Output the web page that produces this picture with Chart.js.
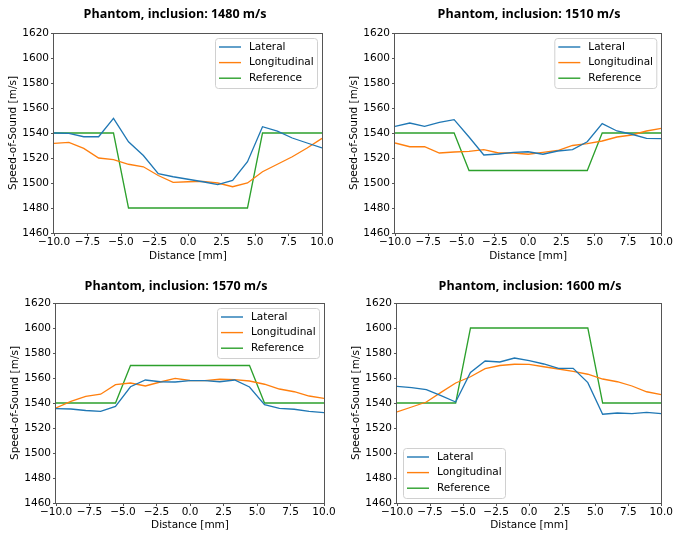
<!DOCTYPE html>
<html>
<head>
<meta charset="utf-8">
<script src="https://cdn.jsdelivr.net/npm/chart.js@4.4.1/dist/chart.umd.min.js"></script>
<style>
  body { margin: 0; background: #fff; }
  #fig { position: relative; width: 673px; height: 535px; }
  #fig canvas { position: absolute; }
</style>
</head>
<body>
<div id="fig">
  <canvas id="c1480" width="336" height="267" style="left:0;top:0"></canvas>
  <canvas id="c1510" width="337" height="267" style="left:336px;top:0"></canvas>
  <canvas id="c1570" width="336" height="268" style="left:0;top:267px"></canvas>
  <canvas id="c1600" width="337" height="268" style="left:336px;top:267px"></canvas>
</div>
<script>
// Abstand entlang des Profils [mm]
const distance = [-10, -8.89, -7.78, -6.67, -5.56, -4.44, -3.33, -2.22, -1.11, 0,
                  1.11, 2.22, 3.33, 4.44, 5.56, 6.67, 7.78, 8.89, 10];
const xTicks = [-10, -7.5, -5, -2.5, 0, 2.5, 5, 7.5, 10];
const yTicks = [1460, 1480, 1500, 1520, 1540, 1560, 1580, 1600, 1620];
const seriesNames = ['Lateral', 'Longitudinal', 'Reference'];

// Phantom, Einschluss 1480 m/s
const lateral1480 = [1540, 1539.7, 1537, 1537, 1551.7, 1533, 1522, 1507.5, 1505, 1503,
                     1501, 1498.7, 1502, 1517, 1545, 1541.5, 1536, 1532, 1528];
const longit1480 = [1531.7, 1532.5, 1527.7, 1520, 1518.7, 1515, 1513, 1506, 1500.5, 1501,
                    1501.3, 1500, 1497, 1500, 1509, 1515, 1521, 1528, 1535.7];
const ref1480 = [1540, 1540, 1540, 1540, 1540, 1480, 1480, 1480, 1480, 1480,
                 1480, 1480, 1480, 1480, 1540, 1540, 1540, 1540, 1540];

// Phantom, Einschluss 1510 m/s
const lateral1510 = [1545.3, 1548, 1545.3, 1548.5, 1550.7, 1536.8, 1522.4, 1523.2, 1524.5, 1525,
                     1523, 1525.6, 1526.7, 1533, 1547.5, 1541.6, 1539, 1535.7, 1535.5];
const longit1510 = [1532, 1529, 1529, 1524, 1524.8, 1525.3, 1526.7, 1524, 1524, 1523,
                    1524.5, 1526, 1530, 1531.5, 1533.6, 1536.8, 1538.4, 1541.6, 1543.7];
const ref1510 = [1540, 1540, 1540, 1540, 1540, 1510, 1510, 1510, 1510, 1510,
                 1510, 1510, 1510, 1510, 1540, 1540, 1540, 1540, 1540];

// Phantom, Einschluss 1570 m/s
const lateral1570 = [1535.5, 1535.2, 1534, 1533.3, 1537.3, 1553, 1558.4, 1557, 1556.8, 1557.9,
                     1557.9, 1557, 1558.4, 1552.8, 1538.7, 1535.7, 1535, 1533.3, 1532.3];
const longit1570 = [1536, 1541.3, 1545.3, 1547, 1554.7, 1556, 1553.6, 1556.8, 1559.7, 1558,
                    1557.9, 1559, 1558.7, 1557.6, 1555, 1551.2, 1549, 1545.6, 1543.7];
const ref1570 = [1540, 1540, 1540, 1540, 1540, 1570, 1570, 1570, 1570, 1570,
                 1570, 1570, 1570, 1570, 1540, 1540, 1540, 1540, 1540];

// Phantom, Einschluss 1600 m/s
const lateral1600 = [1553.3, 1552.3, 1550.7, 1545.9, 1540.8, 1564.5, 1573.6, 1572.8, 1576, 1573.9,
                     1571.2, 1567.7, 1567.7, 1556.3, 1531, 1532, 1531.5, 1532.5, 1531.5];
const longit1600 = [1532.8, 1536.8, 1540.8, 1548.5, 1556, 1561, 1567.5, 1570, 1571, 1570.9,
                    1569, 1567.2, 1565.3, 1563, 1559.2, 1557, 1553.6, 1549, 1546.7];
const ref1600 = [1540, 1540, 1540, 1540, 1540, 1600, 1600, 1600, 1600, 1600,
                 1600, 1600, 1600, 1600, 1540, 1540, 1540, 1540, 1540];

const colors = ['#1f77b4', '#ff7f0e', '#2ca02c'];
const tickFont = { family: 'DejaVu Sans', size: 10.5 };
const axisColor = '#555';

// Rahmen (alle vier Achsenlinien), Titel und Legende im Matplotlib-Stil
const mplDecor = {
    id: 'mplDecor',
    afterDraw(chart, args, opts) {
        const ctx = chart.ctx;
        const a = chart.chartArea;
        ctx.save();
        ctx.strokeStyle = axisColor;
        ctx.lineWidth = 1;
        ctx.strokeRect(Math.round(a.left) - 0.5, Math.round(a.top) + 0.5,
                       Math.round(a.right - a.left) + 1, Math.round(a.bottom - a.top));

        // Titel
        ctx.fillStyle = '#000';
        ctx.font = 'bold 12.5px "Open Sans"';
        ctx.textAlign = 'center';
        ctx.textBaseline = 'middle';
        ctx.fillText(opts.title, opts.titleX, opts.titleY);

        // Legende
        const w = 102, h = 50;
        let bx, by;
        if (opts.loc === 'lower left') {
            bx = a.left + 6;
            by = a.bottom - 5 - h;
        } else {
            bx = a.right - 5 - w;
            by = a.top + 5;
        }
        ctx.beginPath();
        ctx.roundRect(bx + 0.5, by + 0.5, w, h, 3);
        ctx.fillStyle = 'rgba(255,255,255,0.8)';
        ctx.fill();
        ctx.strokeStyle = '#d0d0d0';
        ctx.stroke();

        ctx.font = '10.5px "DejaVu Sans"';
        ctx.textAlign = 'left';
        chart.data.datasets.forEach((ds, i) => {
            const y = by + 9 + i * 15.6;
            ctx.strokeStyle = ds.borderColor;
            ctx.lineWidth = 1.4;
            ctx.beginPath();
            ctx.moveTo(bx + 4, y);
            ctx.lineTo(bx + 26, y);
            ctx.stroke();
            ctx.fillStyle = '#000';
            ctx.fillText(ds.label, bx + 34, y);
        });
        ctx.restore();
    }
};

function makePanel(id, values, decor, pad) {
    const datasets = values.map((vals, i) => ({
        label: seriesNames[i],
        data: distance.map((d, k) => ({ x: d, y: vals[k] })),
        borderColor: colors[i],
        backgroundColor: colors[i],
        borderWidth: 1.3,
        pointRadius: 0,
        tension: 0,
        fill: false
    }));

    new Chart(document.getElementById(id), {
        type: 'line',
        data: { datasets: datasets },
        plugins: [mplDecor],
        options: {
            responsive: false,
            animation: false,
            devicePixelRatio: 1,
            layout: { padding: { left: pad.left, right: pad.right, top: pad.top, bottom: 0 } },
            plugins: {
                legend: { display: false },
                tooltip: { enabled: false },
                mplDecor: decor
            },
            scales: {
                x: {
                    type: 'linear',
                    min: -10,
                    max: 10,
                    afterFit: s => { s.height = pad.xHeight; },
                    afterBuildTicks: s => { s.ticks = xTicks.map(v => ({ value: v })); },
                    ticks: {
                        font: tickFont,
                        color: '#000',
                        padding: 0,
                        maxRotation: 0,
                        autoSkip: false,
                        callback: v => v.toFixed(1).replace('-', '\u2212')
                    },
                    grid: { drawOnChartArea: false, tickLength: 3, color: axisColor },
                    border: { display: false },
                    title: {
                        display: true,
                        text: 'Distance [mm]',
                        font: tickFont,
                        color: '#000',
                        padding: { top: 0, bottom: pad.xTitle }
                    }
                },
                y: {
                    min: 1460,
                    max: 1620,
                    afterFit: s => { s.width = 54; },
                    afterBuildTicks: s => { s.ticks = yTicks.map(v => ({ value: v })); },
                    ticks: { font: tickFont, color: '#000', padding: 2, callback: v => String(v) },
                    grid: { drawOnChartArea: false, tickLength: 3, color: axisColor },
                    border: { display: false },
                    title: {
                        display: true,
                        text: 'Speed-of-Sound [m/s]',
                        font: tickFont,
                        color: '#000',
                        padding: { top: 7, bottom: 0 }
                    }
                }
            }
        }
    });
}

makePanel('c1480', [lateral1480, longit1480, ref1480],
    { title: 'Phantom, inclusion: 1480 m/s', titleX: 175, titleY: 14, loc: 'upper right' },
    { left: 0, right: 14, top: 33, xHeight: 34, xTitle: 4.7 });
makePanel('c1510', [lateral1510, longit1510, ref1510],
    { title: 'Phantom, inclusion: 1510 m/s', titleX: 193, titleY: 14, loc: 'upper right' },
    { left: 5, right: 10, top: 33, xHeight: 34, xTitle: 4.7 });
makePanel('c1570', [lateral1570, longit1570, ref1570],
    { title: 'Phantom, inclusion: 1570 m/s', titleX: 176, titleY: 19, loc: 'upper right' },
    { left: 2, right: 12, top: 36, xHeight: 32, xTitle: 3.7 });
makePanel('c1600', [lateral1600, longit1600, ref1600],
    { title: 'Phantom, inclusion: 1600 m/s', titleX: 194, titleY: 19, loc: 'lower left' },
    { left: 7, right: 8, top: 36, xHeight: 32, xTitle: 3.7 });
</script>
</body>
</html>
